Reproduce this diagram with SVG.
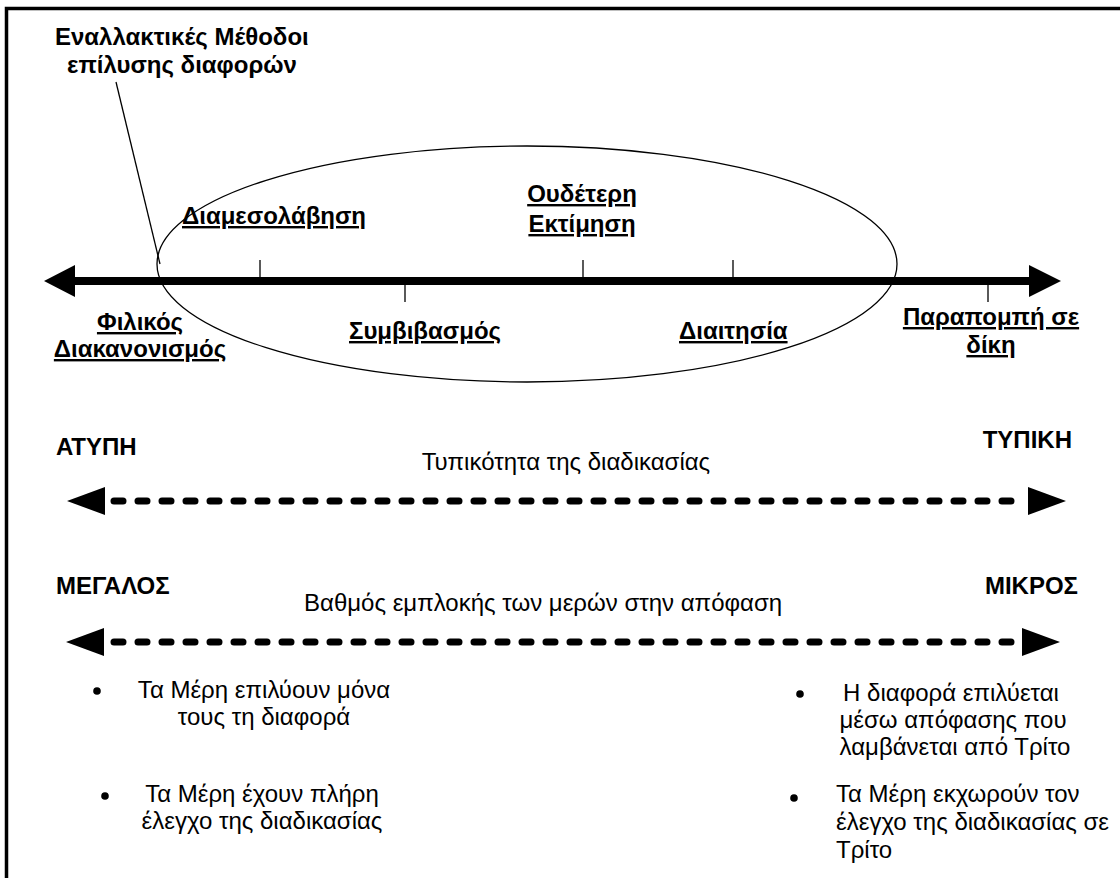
<svg xmlns="http://www.w3.org/2000/svg" width="1120" height="878" viewBox="0 0 1120 878">
<style>
text{font-family:"Liberation Sans",Arial,sans-serif;fill:#000}
.lb{font-weight:bold;font-size:24px;text-decoration:underline}
.cap{font-weight:bold;font-size:24px}
.t{font-size:24px}
.mid{text-anchor:middle}
.end{text-anchor:end}
.thin{stroke:#000;stroke-width:1.3;fill:none}
.dash{stroke:#000;stroke-width:7;stroke-dasharray:9 15;stroke-linecap:round;fill:none}
</style>
<rect width="1120" height="878" fill="#fff"/>
<path d="M6.5 878 V8.5 H1120" fill="none" stroke="#000" stroke-width="3.5"/>
<g id="title">
<text class="cap" x="55" y="45">Εναλλακτικές Μέθοδοι</text>
<text class="cap" x="67" y="73">επίλυσης διαφορών</text>
</g>
<g id="ellipse"><ellipse class="thin" cx="527" cy="264" rx="370" ry="118"/></g>
<g id="connectors">
<line class="thin" x1="116" y1="82" x2="160" y2="264"/>
<line x1="70" y1="281" x2="1032" y2="281" stroke="#000" stroke-width="8"/>
<polygon points="44,281 75,265 75,297"/>
<polygon points="1061,281 1029,265 1029,297"/>
<line class="thin" x1="260" y1="260" x2="260" y2="278"/>
<line class="thin" x1="583" y1="260" x2="583" y2="278"/>
<line class="thin" x1="733" y1="260" x2="733" y2="278"/>
<line class="thin" x1="405" y1="284" x2="405" y2="302"/>
<line class="thin" x1="988" y1="284" x2="988" y2="302"/>
<line class="dash" x1="114" y1="501" x2="1020" y2="501"/>
<polygon points="67,501 105,487 105,515"/>
<polygon points="1066,501 1028,487 1028,515"/>
<line class="dash" x1="114" y1="642" x2="1014" y2="642"/>
<polygon points="66,642 104,628 104,656"/>
<polygon points="1060,642 1022,628 1022,656"/>
</g>
<g id="diamesolavisi"><text class="lb" x="182" y="224">Διαμεσολάβηση</text></g>
<g id="oudeteri"><text class="lb mid" x="582" y="202"> Ουδέτερη</text><text class="lb mid" x="582" y="232">Εκτίμηση</text></g>
<g id="filikos"><text class="lb mid" x="140" y="330">Φιλικός</text><text class="lb mid" x="140" y="357">Διακανονισμός</text></g>
<g id="symvivasmos"><text class="lb" x="349" y="339">Συμβιβασμός</text></g>
<g id="diaitisia"><text class="lb" x="679" y="339">Διαιτησία</text></g>
<g id="parapompi"><text class="lb mid" x="991" y="325">Παραπομπή σε</text><text class="lb mid" x="991" y="353">δίκη</text></g>
<g id="typikotita">
<text class="cap" x="56" y="455">ΑΤΥΠΗ</text>
<text class="cap end" x="1072" y="448">ΤΥΠΙΚΗ</text>
<text class="t mid" x="566" y="470">Τυπικότητα της διαδικασίας</text>
</g>
<g id="vathmos">
<text class="cap" x="56" y="594">ΜΕΓΑΛΟΣ</text>
<text class="cap end" x="1078" y="594">ΜΙΚΡΟΣ</text>
<text class="t" x="304" y="611">Βαθμός εμπλοκής των μερών στην απόφαση</text>
</g>
<g id="left-bullets">
<circle cx="97" cy="691" r="3.8"/>
<text class="t mid" x="264" y="698">Τα Μέρη επιλύουν μόνα</text>
<text class="t mid" x="264" y="725">τους τη διαφορά</text>
<circle cx="105" cy="796" r="3.8"/>
<text class="t mid" x="262" y="802">Τα Μέρη έχουν πλήρη</text>
<text class="t mid" x="262" y="829">έλεγχο της διαδικασίας</text>
</g>
<g id="right-bullets">
<circle cx="800" cy="694" r="3.8"/>
<text class="t mid" x="951" y="701"> Η διαφορά επιλύεται</text>
<text class="t mid" x="953" y="728">μέσω απόφασης που</text>
<text class="t mid" x="955" y="755">λαμβάνεται από Τρίτο</text>
<circle cx="794" cy="798" r="3.8"/>
<text class="t" x="836" y="802">Τα Μέρη εκχωρούν τον</text>
<text class="t" x="836" y="830">έλεγχο της διαδικασίας σε</text>
<text class="t" x="836" y="858">Τρίτο</text>
</g>
</svg>
